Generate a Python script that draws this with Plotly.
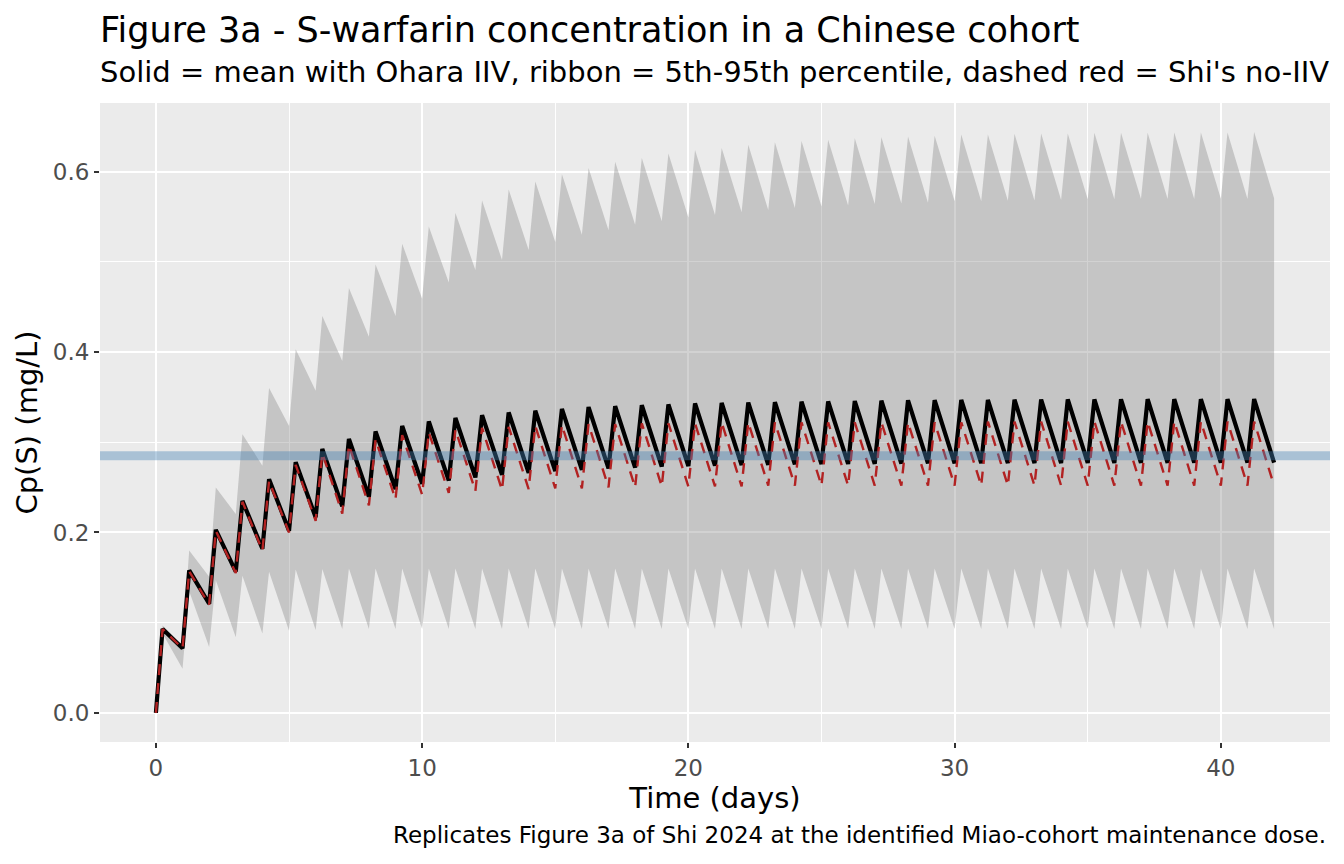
import plotly.graph_objects as go

title = 'Figure 3a - S-warfarin concentration in a Chinese cohort'
subtitle = "Solid = mean with Ohara IIV, ribbon = 5th-95th percentile, dashed red = Shi's no-IIV"
caption = 'Replicates Figure 3a of Shi 2024 at the identified Miao-cohort maintenance dose.'
x_label = 'Time (days)'
y_label = 'Cp(S) (mg/L)'

# daily dose at day 0..41, peak ~6 h after each dose, trough just before next dose
dose_days = list(range(42))
peak_lag = 0.25
target_conc = 0.285  # horizontal reference line

# mean with Ohara IIV (black)
mean_peak = [0.093, 0.158, 0.203, 0.235, 0.259, 0.278, 0.2925, 0.3036, 0.312, 0.318,
             0.323, 0.327, 0.330, 0.333, 0.335, 0.337, 0.339, 0.340, 0.341, 0.342,
             0.343, 0.3435, 0.344, 0.3445, 0.345, 0.3453, 0.3457, 0.346, 0.3465, 0.3467,
             0.347, 0.347, 0.3472, 0.3473, 0.3475, 0.3475, 0.3476, 0.3477, 0.3477, 0.3478,
             0.3478, 0.3479]
mean_trough = [0.0717, 0.121, 0.1566, 0.182, 0.202, 0.2168, 0.229, 0.2397, 0.248, 0.254,
               0.2575, 0.261, 0.264, 0.266, 0.268, 0.2695, 0.271, 0.272, 0.273, 0.2737,
               0.274, 0.2747, 0.275, 0.2755, 0.2758, 0.276, 0.2762, 0.2764, 0.2766, 0.2767,
               0.2768, 0.2769, 0.277, 0.277, 0.2771, 0.2771, 0.2772, 0.2772, 0.2773, 0.2773,
               0.2774, 0.2774]

# Shi's no-IIV curve (red dashed)
shi_peak = [0.093, 0.157, 0.202, 0.234, 0.257, 0.275, 0.288, 0.297, 0.303, 0.308,
            0.311, 0.314, 0.316, 0.317, 0.318, 0.319, 0.320, 0.320, 0.321, 0.321,
            0.321, 0.322, 0.322, 0.322, 0.322, 0.322, 0.322, 0.322, 0.322, 0.322,
            0.322, 0.323, 0.323, 0.323, 0.323, 0.323, 0.323, 0.323, 0.323, 0.323,
            0.323, 0.323]
shi_trough = [0.0715, 0.120, 0.155, 0.180, 0.200, 0.213, 0.221, 0.230, 0.237, 0.242,
              0.244, 0.246, 0.247, 0.248, 0.249, 0.249, 0.250, 0.250, 0.251, 0.251,
              0.251, 0.251, 0.252, 0.252, 0.252, 0.252, 0.252, 0.252, 0.252, 0.252,
              0.252, 0.252, 0.252, 0.252, 0.252, 0.252, 0.252, 0.252, 0.252, 0.252,
              0.252, 0.252]

# 95th percentile
p95_peak = [0.097, 0.180, 0.250, 0.309, 0.360, 0.403, 0.440, 0.471, 0.497, 0.520,
            0.539, 0.554, 0.568, 0.580, 0.589, 0.597, 0.604, 0.611, 0.615, 0.620,
            0.624, 0.626, 0.6297, 0.6324, 0.6338, 0.6352, 0.6368, 0.6379, 0.639, 0.6397,
            0.6412, 0.6412, 0.6419, 0.6423, 0.6423, 0.643, 0.643, 0.643, 0.6434, 0.6434,
            0.6434, 0.6438]
p95_trough = [0.075, 0.151, 0.2205, 0.274, 0.318, 0.357, 0.390, 0.417, 0.440, 0.459,
              0.477, 0.491, 0.502, 0.513, 0.522, 0.530, 0.535, 0.541, 0.545, 0.549,
              0.552, 0.555, 0.5573, 0.5596, 0.5614, 0.5625, 0.564, 0.5647, 0.5654, 0.567,
              0.567, 0.5677, 0.568, 0.5684, 0.5692, 0.5692, 0.5695, 0.5695, 0.5695, 0.570,
              0.5695, 0.5703]

# 5th percentile
p05_peak = [0.088, 0.135, 0.147, 0.152, 0.1566, 0.159, 0.1596, 0.160, 0.160, 0.160,
            0.160, 0.160, 0.160, 0.160, 0.160, 0.160, 0.160, 0.160, 0.160, 0.160,
            0.160, 0.160, 0.160, 0.160, 0.160, 0.160, 0.160, 0.160, 0.160, 0.160,
            0.160, 0.160, 0.160, 0.160, 0.160, 0.160, 0.160, 0.160, 0.160, 0.160,
            0.160, 0.160]
p05_trough = [0.049, 0.073, 0.084, 0.088, 0.091, 0.092, 0.093, 0.093, 0.093, 0.093,
              0.093, 0.093, 0.093, 0.093, 0.093, 0.093, 0.093, 0.093, 0.093, 0.093,
              0.093, 0.093, 0.093, 0.093, 0.093, 0.093, 0.093, 0.093, 0.093, 0.093,
              0.093, 0.093, 0.093, 0.093, 0.093, 0.093, 0.093, 0.093, 0.093, 0.093,
              0.093, 0.093]


def profile(peaks, troughs):
    # start at 0 before the first dose, then peak / trough for every dosing day
    t, c = [0], [0.0]
    for d, p, tr in zip(dose_days, peaks, troughs):
        t += [d + peak_lag, d + 1]
        c += [p, tr]
    return t, c


t, mean_c = profile(mean_peak, mean_trough)
_, shi_c = profile(shi_peak, shi_trough)
_, hi_c = profile(p95_peak, p95_trough)
_, lo_c = profile(p05_peak, p05_trough)

font = 'DejaVu Sans'
fig = go.Figure()

fig.add_trace(go.Scatter(x=t + t[::-1], y=hi_c + lo_c[::-1], fill='toself',
                         fillcolor='rgba(127,127,127,0.35)', line=dict(width=0),
                         mode='lines', hoverinfo='skip', showlegend=False))
fig.add_trace(go.Scatter(x=t, y=mean_c, mode='lines',
                         line=dict(color='black', width=4.2), showlegend=False))
fig.add_trace(go.Scatter(x=t, y=shi_c, mode='lines',
                         line=dict(color='#B22222', width=2.4, dash='11px,8px'),
                         showlegend=False))

fig.add_shape(type='line', xref='paper', x0=0, x1=1, yref='y', y0=target_conc, y1=target_conc,
              line=dict(color='rgba(70,130,180,0.4)', width=9), layer='above')

x_max = dose_days[-1] + 1
y_max = max(hi_c)
fig.update_xaxes(range=[-0.05 * x_max, 1.05 * x_max], tickvals=[0, 10, 20, 30, 40],
                 showgrid=True, gridcolor='white', gridwidth=2,
                 minor=dict(tickvals=[5, 15, 25, 35], showgrid=True, gridcolor='white', gridwidth=1, ticks=''),
                 ticks='outside', ticklen=5, tickwidth=2, tickcolor='#333333',
                 tickfont=dict(family=font, size=23, color='#4D4D4D'),
                 zeroline=False, showline=False, automargin=False,
                 title=dict(text=x_label, font=dict(family=font, size=29, color='black'), standoff=2))
fig.update_yaxes(range=[-0.05 * y_max, 1.05 * y_max], tickvals=[0, 0.2, 0.4, 0.6], tickformat='.1f',
                 showgrid=True, gridcolor='white', gridwidth=2,
                 minor=dict(tickvals=[0.1, 0.3, 0.5], showgrid=True, gridcolor='white', gridwidth=1, ticks=''),
                 ticks='outside', ticklen=5, tickwidth=2, tickcolor='#333333',
                 tickfont=dict(family=font, size=23, color='#4D4D4D'),
                 zeroline=False, showline=False, automargin=False,
                 title=dict(text=y_label, font=dict(family=font, size=29, color='black'), standoff=6))

# page body adds an 8 px offset, margins are set to compensate
fig.update_layout(
    width=1336, height=856,
    margin=dict(l=92, r=14, t=95, b=122),
    plot_bgcolor='#EBEBEB', paper_bgcolor='white',
    font=dict(family=font),
    annotations=[
        dict(text=title, xref='paper', yref='paper', x=-0.002, y=1.114, xanchor='left', yanchor='middle',
             showarrow=False, font=dict(family=font, size=35, color='black')),
        dict(text=subtitle, xref='paper', yref='paper', x=-0.002, y=1.0485, xanchor='left', yanchor='middle',
             showarrow=False, font=dict(family=font, size=29, color='black')),
        dict(text=caption, xref='paper', yref='paper', x=0.9985, y=-0.1455, xanchor='right', yanchor='middle',
             showarrow=False, font=dict(family=font, size=23, color='black')),
    ],
)

fig.write_html('out.html')
